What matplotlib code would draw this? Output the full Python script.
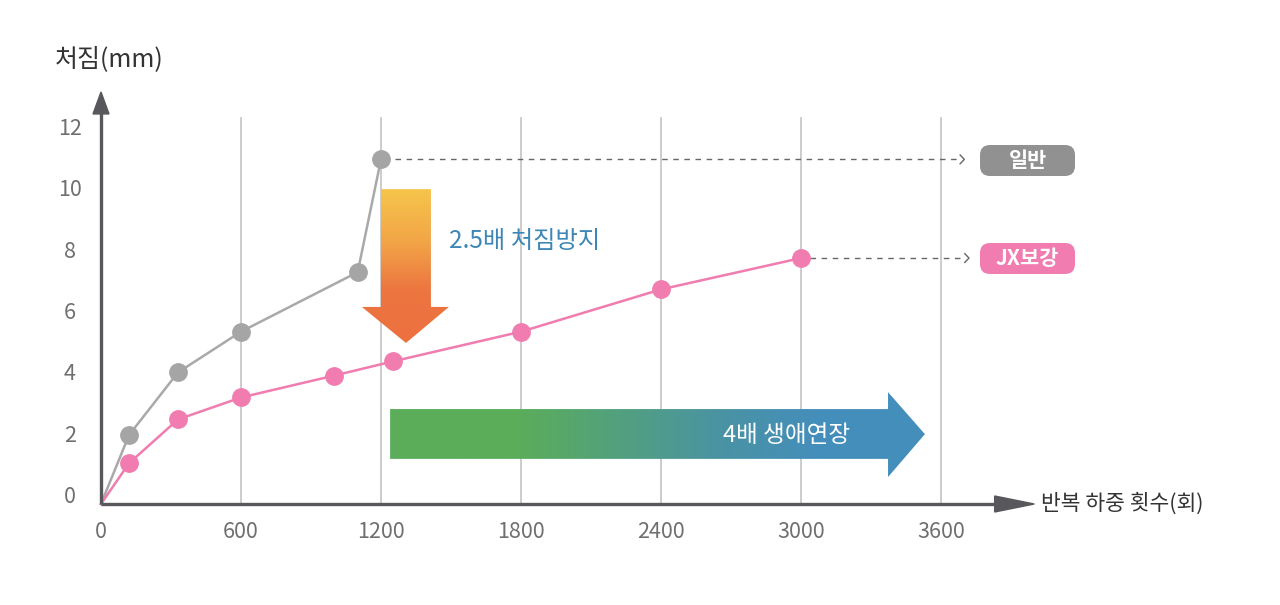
import numpy as np
import matplotlib.pyplot as plt
from matplotlib.colors import LinearSegmentedColormap
from matplotlib.patches import Polygon, FancyBboxPatch

plt.rcParams['font.family'] = ['Noto Sans CJK KR', 'DejaVu Sans']

# 데이터
x_ticks = [0, 600, 1200, 1800, 2400, 3000, 3600]
y_ticks = [0, 2, 4, 6, 8, 10, 12]

normal_x = [0, 120, 330, 600, 1100, 1200]
normal_y = [0, 2.2, 4.2, 5.5, 7.4, 11.0]

jx_x = [0, 120, 330, 600, 1000, 1250, 1800, 2400, 3000]
jx_y = [0, 1.3, 2.7, 3.4, 4.1, 4.55, 5.5, 6.85, 7.85]

y_title = "처짐(mm)"
x_title = "반복 하중 횟수(회)"
label_normal = "일반"
label_jx = "JX보강"
text_down = "2.5배 처짐방지"
text_right = "4배 생애연장"

# 색상
GRAY = "#a9a9a9"
PINK = "#f07cb0"
AXIS = "#58585c"
GRID = "#c4c4c4"
TICK = "#6f6f6f"

W, H = 1280, 605
fig = plt.figure(figsize=(W / 100, H / 100), dpi=100)
ax = fig.add_axes([0, 0, 1, 1])

# 픽셀 -> 데이터 배율 (원점 x=101px, y=504px)
PX_X = 140 / 600.0
PX_Y = 31.33
ax.set_xlim(-101 / PX_X, (W - 101) / PX_X)
ax.set_ylim(-(H - 504) / PX_Y, 504 / PX_Y)
ax.axis("off")

# 세로 그리드
for xt in x_ticks[1:]:
    ax.plot([xt, xt], [0, 12.32], color=GRID, lw=1.2, zorder=1)

# 축 + 화살표
ax.plot([0, 0], [0, 12.6], color=AXIS, lw=2.4, zorder=5, solid_capstyle="butt")
ax.plot([0, 3900], [0, 0], color=AXIS, lw=2.4, zorder=5, solid_capstyle="butt")
ax.add_patch(Polygon([[-8 / PX_X, 12.45], [8 / PX_X, 12.45], [0, 13.15]],
                     closed=True, color=AXIS, zorder=6))
ax.add_patch(Polygon([[3830, -8 / PX_Y], [3830, 8 / PX_Y], [4000, 0]],
                     closed=True, color=AXIS, zorder=6))

# 눈금 라벨 (원본처럼 살짝 위로 당겨 배치)
for yt in y_ticks:
    ax.text(-133, 0.22 + yt * 0.979, str(yt), ha="center", va="center",
            fontsize=15.5, color=TICK)
for xt in x_ticks:
    ax.text(xt, -0.9, str(xt), ha="center", va="center", fontsize=15.5, color=TICK)

ax.text(-197, 14.2, y_title, ha="left", va="center", fontsize=18, color="#333333")
ax.text(4030, 0, x_title, ha="left", va="center", fontsize=15.5, color="#333333")

# 아래쪽 화살표 (그라데이션)
down_pts = [[1200, 10.05], [1414, 10.05], [1414, 6.29], [1491, 6.29],
            [1307, 5.14], [1118, 6.29], [1200, 6.29]]
down_poly = Polygon(down_pts, closed=True, facecolor="none", edgecolor="none")
ax.add_patch(down_poly)
cmap_down = LinearSegmentedColormap.from_list(
    "down", [(0, "#f6c54b"), (0.35, "#f2a447"), (0.66, "#ec7540"), (1, "#ec713f")])
grad = np.linspace(1, 0, 256).reshape(-1, 1)
im = ax.imshow(grad, cmap=cmap_down, extent=[1118, 1491, 5.14, 10.05],
               aspect="auto", origin="lower", zorder=2)
im.set_clip_path(down_poly)

ax.text(1490, 8.4, text_down, ha="left", va="center", fontsize=17.5, color="#3d86b6")

# 오른쪽 화살표 (그라데이션)
right_pts = [[1239, 3.03], [3373, 3.03], [3373, 3.57], [3531, 2.23],
             [3373, 0.86], [3373, 1.44], [1239, 1.44]]
right_poly = Polygon(right_pts, closed=True, facecolor="none", edgecolor="none")
ax.add_patch(right_poly)
cmap_right = LinearSegmentedColormap.from_list(
    "right", [(0, "#5bad5a"), (0.24, "#5bad5a"), (0.62, "#4a93a4"),
              (0.8, "#448ebb"), (1, "#448ebb")])
grad_r = np.linspace(0, 1, 256).reshape(1, -1)
im_r = ax.imshow(grad_r, cmap=cmap_right, extent=[1239, 3531, 0.86, 3.57],
                 aspect="auto", zorder=2)
im_r.set_clip_path(right_poly)
ax.text(2940, 2.2, text_right, ha="center", va="center", fontsize=17,
        color="white", zorder=3)

ax.set_xlim(-101 / PX_X, (W - 101) / PX_X)
ax.set_ylim(-(H - 504) / PX_Y, 504 / PX_Y)

# 데이터 선
ax.plot(normal_x, normal_y, color=GRAY, lw=1.8, zorder=4)
ax.plot(normal_x[1:], normal_y[1:], "o", color="#a5a5a5", ms=12.5, zorder=4)
ax.plot(jx_x, jx_y, color=PINK, lw=1.8, zorder=4)
ax.plot(jx_x[1:], jx_y[1:], "o", color=PINK, ms=12.5, zorder=4)

# 점선 지시선
ax.plot([normal_x[-1] + 60, 3670], [normal_y[-1]] * 2, color="#666666",
        lw=1, ls=(0, (4, 4)), zorder=3)
ax.plot([jx_x[-1] + 40, 3700], [jx_y[-1]] * 2, color="#666666",
        lw=1, ls=(0, (4, 4)), zorder=3)
for yv, xe in [(normal_y[-1], 3700), (jx_y[-1], 3720)]:
    ax.plot([xe - 18, xe, xe - 18], [yv + 0.14, yv, yv - 0.14],
            color="#666666", lw=1, zorder=3)

# 라벨 박스
for cy, txt, col in [(160.5, label_normal, "#919191"), (258.5, label_jx, PINK)]:
    x0, x1 = 980 / W, 1075 / W
    y0, y1 = 1 - (cy + 15.5) / H, 1 - (cy - 15.5) / H
    box = FancyBboxPatch((x0, y0), x1 - x0, y1 - y0,
                         boxstyle="round,pad=0,rounding_size=%f" % (10 / W),
                         mutation_aspect=W / H, transform=fig.transFigure,
                         facecolor=col, edgecolor="none", zorder=5)
    fig.patches.append(box)
    fig.text((x0 + x1) / 2, 1 - cy / H, txt, ha="center", va="center",
             fontsize=15, fontweight="bold", color="white", zorder=6)

fig.savefig("out.png", dpi=100)
